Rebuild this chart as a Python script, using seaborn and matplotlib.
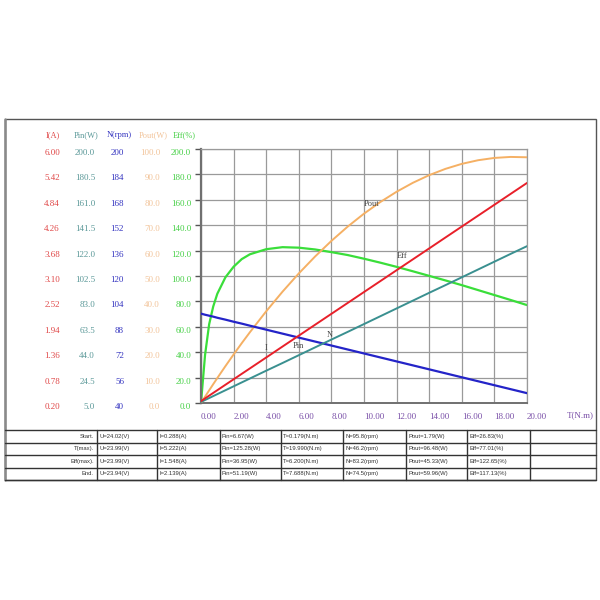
import matplotlib
matplotlib.use("Agg")
import matplotlib.pyplot as plt
import seaborn as sns
import pandas as pd
from matplotlib.lines import Line2D
from matplotlib.patches import Rectangle

# ---------------- data ----------------
torque = [0, 0.25, 0.5, 0.75, 1, 1.5, 2, 2.5, 3, 4, 5, 6, 7, 8, 9, 10,
          11, 12, 13, 14, 15, 16, 17, 18, 19, 20]
current = [0.243, 0.305, 0.368, 0.430, 0.492, 0.617, 0.741, 0.866, 0.990, 1.239,
           1.489, 1.738, 1.987, 2.236, 2.485, 2.734, 2.983, 3.232, 3.481, 3.730,
           3.980, 4.229, 4.478, 4.727, 4.976, 5.225]
pin = [5.8, 7.3, 8.8, 10.3, 11.8, 14.8, 17.8, 20.8, 23.8, 29.8, 35.7, 41.7, 47.7,
       53.7, 59.6, 65.6, 71.6, 77.6, 83.6, 89.6, 95.5, 101.5, 107.5, 113.5, 119.5, 125.4]
speed = [96.3, 95.6, 95.0, 94.4, 93.7, 92.5, 91.2, 90.0, 88.7, 86.2, 83.7, 81.2, 78.7,
         76.2, 73.7, 71.2, 68.7, 66.2, 63.7, 61.2, 58.7, 56.2, 53.7, 51.2, 48.7, 46.2]
pout = [0, 2.50, 4.97, 7.41, 9.81, 14.53, 19.10, 23.56, 27.86, 36.10, 43.82, 51.01,
        57.68, 63.82, 69.45, 74.55, 79.12, 83.17, 86.70, 89.71, 92.19, 94.15, 95.58,
        96.49, 96.88, 96.74]
eff = [0, 38.0, 62.0, 76.0, 86.0, 99.0, 107.3, 113.3, 117.1, 121.1, 122.7, 122.3,
       120.9, 118.8, 116.5, 113.6, 110.5, 107.2, 103.7, 100.1, 96.5, 92.8, 88.9,
       85.0, 81.1, 77.1]

x_ticks = [0, 2, 4, 6, 8, 10, 12, 14, 16, 18, 20]
i_ticks = [0.20, 0.78, 1.36, 1.94, 2.52, 3.10, 3.68, 4.26, 4.84, 5.42, 6.00]
pin_ticks = [5.0, 24.5, 44.0, 63.5, 83.0, 102.5, 122.0, 141.5, 161.0, 180.5, 200.0]
n_ticks = [40, 56, 72, 88, 104, 120, 136, 152, 168, 184, 200]
pout_ticks = [0, 10, 20, 30, 40, 50, 60, 70, 80, 90, 100]
eff_ticks = [0, 20, 40, 60, 80, 100, 120, 140, 160, 180, 200]

row_labels = ["Start.", "T(max).", "Eff(max).", "End."]
table_rows = [
    ["U=24.02(V)", "I=0.288(A)", "Pin=6.67(W)", "T=0.179(N.m)", "N=95.8(rpm)", "Pout=1.79(W)", "Eff=26.83(%)", ""],
    ["U=23.99(V)", "I=5.222(A)", "Pin=125.28(W)", "T=19.990(N.m)", "N=46.2(rpm)", "Pout=96.48(W)", "Eff=77.01(%)", ""],
    ["U=23.99(V)", "I=1.548(A)", "Pin=36.95(W)", "T=6.200(N.m)", "N=83.2(rpm)", "Pout=45.33(W)", "Eff=122.65(%)", ""],
    ["U=23.94(V)", "I=2.139(A)", "Pin=51.19(W)", "T=7.688(N.m)", "N=74.5(rpm)", "Pout=59.96(W)", "Eff=117.13(%)", ""],
]

# ---------------- style ----------------
sns.set_theme(style="white")
plt.rcParams['font.family'] = ['Liberation Serif', 'DejaVu Serif']

C_I, C_PIN, C_N, C_POUT, C_EFF = "#e8202a", "#3a9090", "#2424c8", "#f5b064", "#3ade3a"
L_I, L_PIN, L_N, L_POUT, L_EFF = "#e04848", "#5a9898", "#3434c0", "#f2c49a", "#46d046"
XCOL = "#7a50a8"

W, H = 600, 600
fig = plt.figure(figsize=(6, 6), dpi=100)
fig.patch.set_facecolor("white")

def fx(px):
    return px / W

def fy(py):
    return 1 - py / H

left, right, top, bottom = 201, 527, 149, 403
rect = [fx(left), fy(bottom), fx(right) - fx(left), fy(top) - fy(bottom)]

df = pd.DataFrame({"T": torque, "I": current, "Pin": pin, "N": speed,
                   "Pout": pout, "Eff": eff})

ax = fig.add_axes(rect)  # main: Eff axis with grid
axes = {}
specs = [
    ("Eff", eff_ticks, C_EFF, L_EFF, None, "{:.1f}"),
    ("Pout", pout_ticks, C_POUT, L_POUT, 160, "{:.1f}"),
    ("N", n_ticks, C_N, L_N, 124, "{:d}"),
    ("Pin", pin_ticks, C_PIN, L_PIN, 95, "{:.1f}"),
    ("I", i_ticks, C_I, L_I, 60, "{:.2f}"),
]
for name, ticks, lc, tc, redge, fmt in specs:
    if name == "Eff":
        a = ax
    else:
        a = fig.add_axes(rect, sharex=ax)
        a.patch.set_visible(False)
        for s in a.spines.values():
            s.set_visible(False)
        a.tick_params(axis="x", which="both", bottom=False, labelbottom=False)
    axes[name] = a
    a.set_ylim(ticks[0], ticks[-1])
    a.set_yticks(ticks)
    a.set_yticklabels([fmt.format(t) for t in ticks])
    if name == "Eff":
        a.tick_params(axis="y", length=4, width=1, color="#555555", pad=3,
                      labelsize=6.5, labelcolor=tc, left=True)
    else:
        pad_pt = (left - redge) * 72 / 100
        a.tick_params(axis="y", length=0, pad=pad_pt, labelsize=6.5,
                      labelcolor=tc, left=True)
    for lab in a.get_yticklabels():
        lab.set_verticalalignment("top")

# grid and frame on main axes
ax.set_xlim(0, 20)
ax.set_xticks(x_ticks)
ax.set_xticklabels(["{:.2f}".format(t) for t in x_ticks])
ax.tick_params(axis="x", length=0, pad=7, labelsize=6.5, labelcolor=XCOL)
for lab in ax.get_xticklabels():
    lab.set_horizontalalignment("left")
ax.grid(True, color="#9a9a9a", linewidth=0.9)
for s in ax.spines.values():
    s.set_color("#9a9a9a")
    s.set_linewidth(0.9)
ax.spines["left"].set_color("#707070")
ax.spines["left"].set_linewidth(1.6)
ax.spines["bottom"].set_color("#707070")
ax.spines["bottom"].set_linewidth(1.4)
ax.set_xlabel("")
ax.set_ylabel("")

# curves
sns.lineplot(data=df, x="T", y="Eff", ax=axes["Eff"], color=C_EFF, linewidth=1.6)
sns.lineplot(data=df, x="T", y="Pout", ax=axes["Pout"], color=C_POUT, linewidth=1.4)
sns.lineplot(data=df, x="T", y="I", ax=axes["I"], color=C_I, linewidth=1.4)
sns.lineplot(data=df, x="T", y="Pin", ax=axes["Pin"], color=C_PIN, linewidth=1.4)
sns.lineplot(data=df, x="T", y="N", ax=axes["N"], color=C_N, linewidth=1.6)
for a in axes.values():
    a.set_xlabel("")
    a.set_ylabel("")
    a.set_xlim(0, 20)

# curve labels
lab_kw = dict(fontsize=6, color="#444444")
axes["Pout"].text(10.0, 77.5, "Pout", **lab_kw)
axes["Eff"].text(12.0, 114.5, "Eff", **lab_kw)
axes["I"].text(3.9, 1.40, "I", **lab_kw)
axes["Pin"].text(5.6, 47.0, "Pin", **lab_kw)
axes["N"].text(7.7, 81.5, "N", **lab_kw)

# column headers
hdr_y = fy(135)
for xx, txt, col in [(53, "I(A)", L_I), (86, "Pin(W)", L_PIN), (119, "N(rpm)", L_N),
                     (153, "Pout(W)", L_POUT), (184, "Eff(%)", L_EFF)]:
    fig.text(fx(xx), hdr_y, txt, color=col, fontsize=6, ha="center", va="center")

fig.text(fx(567), fy(415), "T(N.m)", color=XCOL, fontsize=6.5, ha="left", va="center")

# outer border
fig.add_artist(Rectangle((fx(5), fy(480)), fx(596) - fx(5), fy(119) - fy(480),
                         transform=fig.transFigure, fill=False,
                         edgecolor="#555555", linewidth=1.0))
fig.add_artist(Line2D([fx(5), fx(5)], [fy(119), fy(480)], color="#8a8a8a",
                      linewidth=1.8, transform=fig.transFigure))

# table
row_lines = [430, 442.5, 455, 467.5, 480]
col_lines = [5, 97, 157, 220, 281, 343, 406, 467, 530, 596]
for yy in row_lines:
    fig.add_artist(Line2D([fx(5), fx(596)], [fy(yy), fy(yy)], color="#333333",
                          linewidth=1.0, transform=fig.transFigure))
for xx in col_lines[1:-1]:
    fig.add_artist(Line2D([fx(xx), fx(xx)], [fy(430), fy(480)], color="#333333",
                          linewidth=1.0, transform=fig.transFigure))
tkw = dict(fontsize=4.2, color="#333333", va="center", family=["Liberation Sans", "DejaVu Sans"])
for r, (lbl, vals) in enumerate(zip(row_labels, table_rows)):
    yc = fy((row_lines[r] + row_lines[r + 1]) / 2)
    fig.text(fx(col_lines[1] - 3), yc, lbl, ha="right", **tkw)
    for c, v in enumerate(vals):
        fig.text(fx(col_lines[c + 1] + 2), yc, v, ha="left", **tkw)

fig.savefig("out.png", dpi=100, facecolor="white")
